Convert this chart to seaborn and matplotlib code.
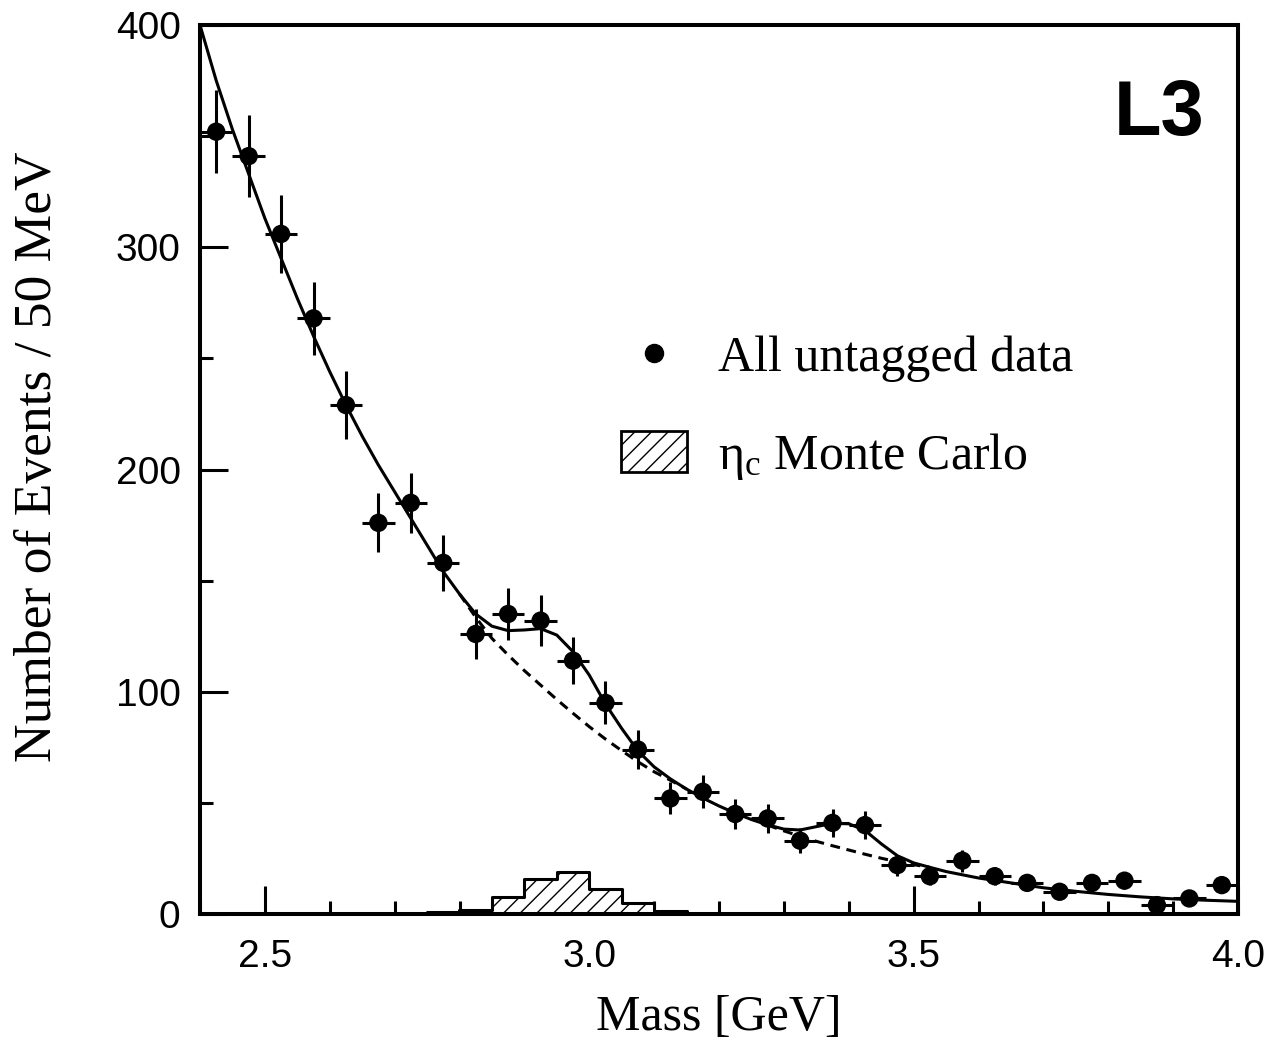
import numpy as np
import pandas as pd
import matplotlib
matplotlib.use("Agg")
import matplotlib.pyplot as plt
import seaborn as sns
from matplotlib.lines import Line2D
from matplotlib.patches import Patch
from matplotlib.ticker import MultipleLocator, FixedLocator

# ---------------- data ----------------
mass = [2.425, 2.475, 2.525, 2.575, 2.625, 2.675, 2.725, 2.775, 2.825, 2.875,
        2.925, 2.975, 3.025, 3.075, 3.125, 3.175, 3.225, 3.275, 3.325, 3.375,
        3.425, 3.475, 3.525, 3.575, 3.625, 3.675, 3.725, 3.775, 3.825, 3.875,
        3.925, 3.975]
events = [352, 341, 306, 268, 229, 176, 185, 158, 126, 135,
          132, 114, 95, 74, 52, 55, 45, 43, 33, 41,
          40, 22, 17, 24, 17, 14, 10, 14, 15, 4,
          7, 13]
events_err = [18.8, 18.5, 17.5, 16.4, 15.1, 13.3, 13.6, 12.6, 11.2, 11.6,
              11.5, 10.7, 9.7, 8.6, 7.2, 7.4, 6.7, 6.6, 5.7, 6.4,
              6.3, 4.7, 4.1, 4.9, 4.1, 3.7, 3.2, 3.7, 3.9, 2.0,
              2.6, 3.6]
bin_half_width = 0.025

# full fit (solid line)
fit_mass = [2.400, 2.425, 2.450, 2.475, 2.500, 2.525, 2.550, 2.575, 2.600, 2.625,
            2.650, 2.675, 2.700, 2.725, 2.750, 2.775, 2.800, 2.825, 2.850, 2.875,
            2.900, 2.925, 2.950, 2.975, 3.000, 3.025, 3.050, 3.075, 3.100, 3.125,
            3.150, 3.175, 3.200, 3.225, 3.250, 3.275, 3.300, 3.325, 3.350, 3.375,
            3.400, 3.425, 3.450, 3.475, 3.500, 3.525, 3.550, 3.600, 3.650, 3.700,
            3.750, 3.800, 3.850, 3.900, 3.950, 4.000]
fit_total = [400, 375, 353, 333, 313, 295, 277, 260, 244, 229,
             215, 202, 190, 178, 166, 154, 144, 135, 129.5, 127.5,
             127.8, 128.4, 125.5, 118, 107.5, 94.5, 83.5, 73.4, 66.2, 60.8,
             56.2, 52.2, 48.6, 45.4, 42.5, 40.1, 38.2, 37.8, 39.3, 40.8,
             40.6, 37.6, 31.6, 26.2, 23.0, 21.0, 19.1, 16.2, 14.0, 11.8,
             10.2, 8.8, 7.7, 6.8, 6.2, 5.7]

# background only (dashed line), where it departs from the full fit
bg_mass_a = [2.800, 2.825, 2.850, 2.875, 2.900, 2.925, 2.950, 2.975, 3.000, 3.025,
             3.050, 3.075, 3.100, 3.125, 3.150]
bg_a = [144, 133.5, 124, 116.5, 109.5, 103, 96.5, 90.3, 84.3, 78.7,
        73.5, 68.5, 64, 60.2, 56.2]
bg_mass_b = [3.275, 3.300, 3.325, 3.350, 3.375, 3.400, 3.425, 3.450, 3.475, 3.500,
             3.525]
bg_b = [40.0, 37.4, 35.0, 32.7, 30.7, 28.8, 26.9, 25.1, 23.5, 22.2,
        21.0]

# eta_c Monte Carlo histogram
mc_edges = [2.75, 2.80, 2.85, 2.90, 2.95, 3.00, 3.05, 3.10, 3.15]
mc_counts = [0.7, 1.8, 7.8, 15.7, 18.9, 11.2, 4.8, 1.2]

x_major = [2.5, 3.0, 3.5, 4.0]
x_major_labels = ["2.5", "3.0", "3.5", "4.0"]

# ---------------- style ----------------
sns.set_theme(style="ticks", rc={
    "axes.linewidth": 2.9,
    "axes.edgecolor": "black",
    "axes.labelcolor": "black",
    "text.color": "black",
    "xtick.color": "black",
    "ytick.color": "black",
    "hatch.linewidth": 1.0,
    "mathtext.fontset": "custom",
    "mathtext.rm": "Liberation Serif",
    "mathtext.it": "Liberation Serif:italic",
})
plt.rcParams["font.family"] = ["Liberation Sans", "DejaVu Sans"]
SERIF = ["Liberation Serif", "DejaVu Serif"]

fig = plt.figure(figsize=(12.79, 10.41), dpi=100)
ax = fig.add_axes([200 / 1279, 1 - 914 / 1041, 1038 / 1279, 889 / 1041])

# MC histogram (hatched)
mc_centers = [(a + b) / 2 for a, b in zip(mc_edges[:-1], mc_edges[1:])]
sns.histplot(x=mc_centers, weights=mc_counts, bins=mc_edges, element="step",
             fill=True, facecolor="white", edgecolor="black", hatch="//",
             linewidth=2.2, ax=ax, zorder=1)

# background (dashed)
for bx, by in ((bg_mass_a, bg_a), (bg_mass_b, bg_b)):
    sns.lineplot(x=bx, y=by, color="black", linewidth=2.2, sort=False,
                 estimator=None, ax=ax, zorder=2)
    ax.lines[-1].set_dashes((3.2, 2.2))

# full fit (solid)
sns.lineplot(x=fit_mass, y=fit_total, color="black", linewidth=2.2, sort=False,
             estimator=None, ax=ax, zorder=3)

# data points with error bars
ax.errorbar(mass, events, xerr=bin_half_width, yerr=events_err, fmt="none",
            ecolor="black", elinewidth=2.2, capsize=0, zorder=4)
sns.scatterplot(x=mass, y=events, s=175, color="black", edgecolor="none",
                ax=ax, zorder=5)

# ---------------- axes ----------------
ax.set_xlim(2.4, 4.0)
ax.set_ylim(0, 400)
ax.xaxis.set_major_locator(FixedLocator(x_major))
ax.set_xticklabels(x_major_labels)
ax.xaxis.set_minor_locator(MultipleLocator(0.1))
ax.yaxis.set_major_locator(MultipleLocator(100))
ax.yaxis.set_minor_locator(MultipleLocator(50))
ax.tick_params(which="major", direction="in", length=20, width=2.2,
               labelsize=28, top=False, right=False, colors="black")
ax.tick_params(which="minor", direction="in", length=9.5, width=2.2,
               top=False, right=False, colors="black")
ax.tick_params(axis="x", which="major", pad=18)
ax.tick_params(axis="y", which="major", pad=14)
for s in ax.spines.values():
    s.set_visible(True)
    s.set_linewidth(2.9)
    s.set_color("black")

ax.set_xlabel("Mass [GeV]", family=SERIF, fontsize=36)
ax.set_ylabel("Number of Events / 50 MeV", family=SERIF, fontsize=38.5)
ax.xaxis.set_label_coords(0.5, -0.09)
ax.yaxis.set_label_coords(-0.133, 0.514)

ax.text(0.968, 0.876, "L3", transform=ax.transAxes, ha="right",
        va="baseline", fontsize=56, fontweight="bold")

handles = [Line2D([], [], marker="o", linestyle="none", color="black",
                  markersize=13),
           Patch(facecolor="white", edgecolor="black", hatch="//",
                 linewidth=2.0)]
labels = ["All untagged data", "η$_{\\mathrm{c}}$ Monte Carlo"]
leg = ax.legend(handles, labels, loc="upper left",
                bbox_to_anchor=(421 / 1038, (914 - 334) / 889),
                frameon=False, borderpad=0, borderaxespad=0,
                handlelength=1.32, handleheight=0.86, handletextpad=0.62,
                labelspacing=0.97, prop={"family": SERIF, "size": 36})

fig.savefig("out.png", dpi=100)
